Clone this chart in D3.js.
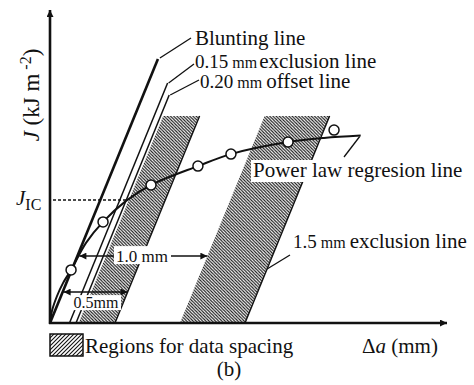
<!DOCTYPE html>
<html>
<head>
<meta charset="utf-8">
<script src="https://cdn.jsdelivr.net/npm/d3@7"></script>
<style>
  body { margin: 0; background: #fff; }
</style>
</head>
<body>
<div id="chart"></div>
<script>
// J units per mm of crack growth for the blunting line (J = 2 sigma_Y * da)
var bluntSlope = 106;
var bluntTop = 88;

// exclusion / offset lines parallel to blunting line (mm) and where they stop (J)
var offsetLines = [0.15, 0.20];
var offsetTops = [80, 76];

// hatched regions for data spacing (mm)
var regions = [[0.22, 0.5], [1.0, 1.5]];
var regionTop = 69;

// power law regression curve
var curveDa = [0, 0.015, 0.054, 0.10, 0.162, 0.277, 0.408, 0.585, 0.777, 1.138, 1.392, 1.831, 2.108, 2.39];
var curveJ  = [0, 4, 9, 13.3, 17.7, 26.7, 33.7, 40.7, 46.0, 52.3, 56.3, 60.3, 61.7, 62.5];

// measured points
var pointDa = [0.162, 0.408, 0.777, 1.138, 1.392, 1.831, 2.185];
var pointJ  = [17.7, 33.7, 46.0, 52.3, 56.3, 60.3, 64.3];

var jIC = 41;

var width = 474, height = 385;
var serif = "'Liberation Serif', 'Times New Roman', Times, 'DejaVu Serif', serif";

var svg = d3.select("#chart").append("svg")
  .attr("width", width)
  .attr("height", height)
  .attr("font-family", serif)
  .style("font-family", serif)
  .style("background", "#fff");

var x = d3.scaleLinear().domain([0, 3]).range([50, 440]);
var y = d3.scaleLinear().domain([0, 105]).range([323, 8]);

//position on a line parallel to the blunting line, shifted by offset mm
function along(offset, J) {
  return [x(offset + J / bluntSlope), y(J)];
}

var defs = svg.append("defs");

// region hatching goes "\" , legend swatch goes "/"
var hatch = defs.append("pattern")
  .attr("id", "hatch")
  .attr("patternUnits", "userSpaceOnUse")
  .attr("width", 3.2).attr("height", 3.2);
hatch.append("path")
  .attr("d", "M-0.8,-0.8 L4,4 M-0.8,2.4 L0.8,4 M2.4,-0.8 L4,0.8")
  .attr("stroke", "#111").attr("stroke-width", 1.1);

var hatch2 = defs.append("pattern")
  .attr("id", "hatch2")
  .attr("patternUnits", "userSpaceOnUse")
  .attr("width", 4).attr("height", 4);
hatch2.append("path")
  .attr("d", "M-1,5 L5,-1 M-1,1 L1,-1 M3,5 L5,3")
  .attr("stroke", "#111").attr("stroke-width", 1.1);

defs.append("marker")
  .attr("id", "arr")
  .attr("viewBox", "0 0 10 10")
  .attr("refX", 10).attr("refY", 5)
  .attr("markerWidth", 9).attr("markerHeight", 7)
  .attr("markerUnits", "userSpaceOnUse")
  .attr("orient", "auto-start-reverse")
  .append("path")
  .attr("d", "M0,0 L10,5 L0,10 Z")
  .attr("fill", "#111");

// hatched regions
svg.append("g")
  .selectAll("path")
  .data(regions)
  .enter()
  .append("path")
  .attr("d", function(d) {
    return "M" + along(d[0], 0) + "L" + along(d[1], 0) +
      "L" + along(d[1], regionTop) + "L" + along(d[0], regionTop) + "Z";
  })
  .attr("fill", "url(#hatch)");

// right edges of regions
svg.append("g")
  .selectAll("line")
  .data(regions)
  .enter()
  .append("line")
  .attr("x1", function(d) { return along(d[1], 0)[0]; })
  .attr("y1", y(0))
  .attr("x2", function(d) { return along(d[1], regionTop)[0]; })
  .attr("y2", y(regionTop))
  .attr("stroke", "#111").attr("stroke-width", 1.4);

// offset / exclusion lines
svg.append("g")
  .selectAll("line")
  .data(offsetLines)
  .enter()
  .append("line")
  .attr("x1", function(d) { return along(d, 0)[0]; })
  .attr("y1", y(0))
  .attr("x2", function(d, i) { return along(d, offsetTops[i])[0]; })
  .attr("y2", function(d, i) { return y(offsetTops[i]); })
  .attr("stroke", "#111").attr("stroke-width", 1.5);

// blunting line
svg.append("line")
  .attr("x1", x(0)).attr("y1", y(0))
  .attr("x2", along(0, bluntTop)[0]).attr("y2", y(bluntTop))
  .attr("stroke", "#111").attr("stroke-width", 2.6);

// J_IC dashed line
svg.append("line")
  .attr("x1", x(0) + 3).attr("y1", y(jIC))
  .attr("x2", along(0.2, jIC)[0]).attr("y2", y(jIC))
  .attr("stroke", "#111").attr("stroke-width", 1.3)
  .attr("stroke-dasharray", "3,2");

// regression curve
var curveData = curveDa.map(function(d, i) { return [d, curveJ[i]]; });
svg.append("path")
  .datum(curveData)
  .attr("d", d3.line()
    .x(function(d) { return x(d[0]); })
    .y(function(d) { return y(d[1]); })
    .curve(d3.curveCatmullRom))
  .attr("fill", "none")
  .attr("stroke", "#111").attr("stroke-width", 2);

// points
svg.append("g")
  .selectAll("circle")
  .data(pointDa)
  .enter()
  .append("circle")
  .attr("cx", function(d) { return x(d); })
  .attr("cy", function(d, i) { return y(pointJ[i]); })
  .attr("r", 5)
  .attr("fill", "#fff")
  .attr("stroke", "#111").attr("stroke-width", 1.5);

// axes
svg.append("line")
  .attr("x1", x(0)).attr("y1", y(0) + 1)
  .attr("x2", x(0)).attr("y2", 10)
  .attr("stroke", "#111").attr("stroke-width", 2.6)
  .attr("marker-end", "url(#arr)");
svg.append("line")
  .attr("x1", x(0) - 1).attr("y1", y(0))
  .attr("x2", 447).attr("y2", y(0))
  .attr("stroke", "#111").attr("stroke-width", 2.6)
  .attr("marker-end", "url(#arr)");

// dimension arrows
var jArrow1 = 22.3, jArrow05 = 10.3;
var a1 = along(0, jArrow1), b1 = along(1.0, jArrow1);
svg.append("line")
  .attr("x1", a1[0] + 2).attr("y1", a1[1]).attr("x2", b1[0]).attr("y2", b1[1])
  .attr("stroke", "#111").attr("stroke-width", 1.5)
  .attr("marker-start", "url(#arr)").attr("marker-end", "url(#arr)");
var a05 = along(0, jArrow05), b05 = along(0.5, jArrow05);
svg.append("line")
  .attr("x1", a05[0] + 1).attr("y1", a05[1]).attr("x2", b05[0]).attr("y2", b05[1])
  .attr("stroke", "#111").attr("stroke-width", 1.5)
  .attr("marker-start", "url(#arr)").attr("marker-end", "url(#arr)");

svg.append("rect")
  .attr("x", 114).attr("y", a1[1] - 10).attr("width", 57).attr("height", 18)
  .attr("fill", "#fff");
svg.append("text")
  .attr("x", 142).attr("y", a1[1] + 6)
  .attr("text-anchor", "middle")
  .style("font-size", "17px")
  .text("1.0 mm");

svg.append("rect")
  .attr("x", 72).attr("y", a05[1] + 3).attr("width", 49).attr("height", 15)
  .attr("fill", "#fff");
svg.append("text")
  .attr("x", 96).attr("y", a05[1] + 16)
  .attr("text-anchor", "middle")
  .style("font-size", "16px")
  .text("0.5mm");

// leader lines
function leader(p, q) {
  svg.append("line")
    .attr("x1", p[0]).attr("y1", p[1]).attr("x2", q[0]).attr("y2", q[1])
    .attr("stroke", "#111").attr("stroke-width", 1.3);
}
var bt = along(0, bluntTop);
leader([bt[0] + 2, bt[1] - 1], [191, 38]);
var t15 = along(offsetLines[0], offsetTops[0]);
leader([t15[0] + 1, t15[1]], [194, 64]);
var t20 = along(offsetLines[1], offsetTops[1]);
leader([t20[0] + 1, t20[1]], [199, 80]);
var ce = [x(curveDa[curveDa.length - 1]), y(curveJ[curveJ.length - 1])];
leader([ce[0] - 1, ce[1] + 1], [344, 157]);
var e15 = along(1.5, 18);
leader([e15[0], e15[1]], [290, 255]);

// labels
svg.append("text").attr("x", 195).attr("y", 45)
  .style("font-size", "21px").text("Blunting line");

var l15 = svg.append("text").attr("x", 195).attr("y", 68);
l15.append("tspan").style("font-size", "19px").text("0.15");
l15.append("tspan").style("font-size", "16px").text(" mm");
l15.append("tspan").attr("dx", 2).style("font-size", "21px").text("exclusion line");

var l20 = svg.append("text").attr("x", 200).attr("y", 88);
l20.append("tspan").style("font-size", "19px").text("0.20");
l20.append("tspan").style("font-size", "16px").text(" mm ");
l20.append("tspan").style("font-size", "21px").text("offset line");

svg.append("rect")
  .attr("x", 251).attr("y", 160).attr("width", 222).attr("height", 22)
  .attr("fill", "#fff");
svg.append("text").attr("x", 253).attr("y", 177)
  .style("font-size", "21px").text("Power law regresion line");

var l5 = svg.append("text").attr("x", 293).attr("y", 248);
l5.append("tspan").style("font-size", "19px").text("1.5");
l5.append("tspan").style("font-size", "16px").text(" mm ");
l5.append("tspan").style("font-size", "21px").text("exclusion line");

// J_IC
var jl = svg.append("text").attr("x", 16).attr("y", y(jIC) + 5);
jl.append("tspan").style("font-size", "21px").style("font-style", "italic").text("J");
jl.append("tspan").attr("dy", 5).style("font-size", "16px").text("IC");

// y axis title
var yt = svg.append("text")
  .attr("transform", "translate(39,95) rotate(-90)")
  .attr("text-anchor", "middle")
  .style("font-size", "23px");
yt.append("tspan").style("font-style", "italic").text("J");
yt.append("tspan").text(" (kJ m");
yt.append("tspan").attr("dy", -8).style("font-size", "16px").text(" -2");
yt.append("tspan").attr("dy", 8).text(")");

// x axis title
var xt = svg.append("text").attr("x", 362).attr("y", 353).style("font-size", "21px");
xt.append("tspan").text("\u0394");
xt.append("tspan").style("font-style", "italic").text("a");
xt.append("tspan").text(" (mm)");

// legend
svg.append("rect")
  .attr("x", 50).attr("y", 334).attr("width", 33).attr("height", 22)
  .attr("fill", "url(#hatch2)")
  .attr("stroke", "#111").attr("stroke-width", 1.5);
svg.append("text").attr("x", 85).attr("y", 353)
  .style("font-size", "21px").text("Regions for data spacing");

svg.append("text").attr("x", 229).attr("y", 376)
  .attr("text-anchor", "middle")
  .style("font-size", "21px").text("(b)");

svg.selectAll("text").attr("fill", "#111");
</script>
</body>
</html>
